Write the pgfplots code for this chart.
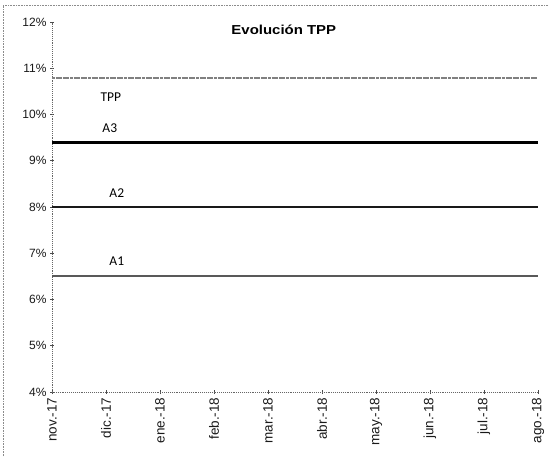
\documentclass[border=0pt]{standalone}
\usepackage{pgfplots}
\pgfplotsset{compat=1.18}
\usepackage{fontspec}
\setmainfont{Liberation Sans}
\newfontfamily\calib{Carlito}
\begin{document}
\begin{tikzpicture}
\path[use as bounding box] (-52pt,-64pt) rectangle (497pt,392pt);
\draw[black!45, densely dotted, line width=0.6pt] (-49pt,-64pt) -- (-49pt,387pt) -- (497pt,387pt);
\begin{axis}[
  at={(0pt,0pt)}, anchor=south west,
  scale only axis, width=486pt, height=370pt,
  xmin=0, xmax=9, ymin=4, ymax=12,
  xtick={0,...,9},
  xticklabels={nov.-17,dic.-17,ene.-18,feb.-18,mar.-18,abr.-18,may.-18,jun.-18,jul.-18,ago.-18},
  xticklabel style={rotate=90, anchor=east, font=\fontsize{13.5}{15}\selectfont, black!90},
  ytick={4,...,12},
  yticklabel={\pgfmathprintnumber{\tick}\%},
  yticklabel style={font=\fontsize{12}{14}\selectfont, black!90},
  /pgf/number format/assume math mode=true,
  axis x line=bottom, axis y line=left,
  axis line style={-, black!60, densely dotted, line width=0.9pt},
  tick style={black!70, line width=0.6pt},
  major tick length=4pt,
  tick align=center,
  clip=false,
]
\addplot[black!50, line width=2pt, dash pattern=on 3pt off 0.6pt] coordinates {(0,10.8) (1,10.8) (2,10.8) (3,10.8) (4,10.8) (5,10.8) (6,10.8) (7,10.8) (8,10.8) (9,10.8)};
\addplot[black, line width=2.6pt] coordinates {(0,9.4) (1,9.4) (2,9.4) (3,9.4) (4,9.4) (5,9.4) (6,9.4) (7,9.4) (8,9.4) (9,9.4)};
\addplot[black!90, line width=2.1pt] coordinates {(0,8.0) (1,8.0) (2,8.0) (3,8.0) (4,8.0) (5,8.0) (6,8.0) (7,8.0) (8,8.0) (9,8.0)};
\addplot[black!65, line width=1.9pt] coordinates {(0,6.5) (1,6.5) (2,6.5) (3,6.5) (4,6.5) (5,6.5) (6,6.5) (7,6.5) (8,6.5) (9,6.5)};
\node[font=\bfseries\fontsize{13}{15}\selectfont, xscale=1.15] at (rel axis cs:0.477,0.98) {Evolución TPP};
\node[font=\calib\fontsize{13.5}{15}\selectfont] at (axis cs:1.09,10.38) {TPP};
\node[font=\calib\fontsize{13.5}{15}\selectfont] at (axis cs:1.07,9.71) {A3};
\node[font=\calib\fontsize{13.5}{15}\selectfont] at (axis cs:1.2,8.30) {A2};
\node[font=\calib\fontsize{13.5}{15}\selectfont] at (axis cs:1.2,6.83) {A1};
\end{axis}
\end{tikzpicture}
\end{document}
